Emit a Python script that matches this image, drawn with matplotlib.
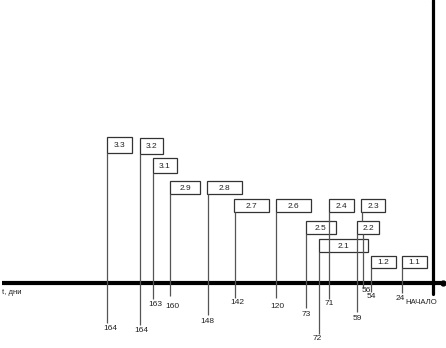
import matplotlib.pyplot as plt
from matplotlib.patches import Rectangle

plt.rcParams['font.family'] = ['Liberation Sans', 'DejaVu Sans']

# работы (прямоугольники): номер, левый/правый край, верх/низ
works = ['3.3', '3.2', '3.1', '2.9', '2.8', '2.7', '2.6', '2.5', '2.4', '2.3', '2.2', '2.1', '1.2', '1.1']
box_left = [106.7, 140, 153.3, 170, 207.3, 234.3, 276, 306, 329.3, 361.3, 356.7, 318.7, 370.7, 401.7]
box_right = [132.3, 162.7, 176.7, 200, 241.7, 269.3, 310.7, 335.7, 354, 384.7, 379.3, 368.3, 395.7, 427.3]
box_top = [136.7, 138.3, 158.3, 180.7, 180.7, 199.3, 199.3, 221, 199.3, 199.3, 221, 239.3, 256, 256]
box_bottom = [152.7, 154, 172.7, 194.3, 194.3, 211.7, 211.7, 234, 211.7, 211.7, 234, 252, 268.3, 268.3]

# отметки времени (дни) на шкале
days = ['164', '164', '163', '160', '148', '142', '120', '73', '72', '71', '59', '56', '54', '24']
mark_x = [106.7, 140.3, 152.8, 170, 207.5, 234.8, 275.8, 306, 318.5, 329.3, 356.7, 362.7, 370.5, 401.7]
mark_top = [152.7, 154, 172.7, 194.3, 194.3, 211.7, 211.7, 234, 252, 211.7, 234, 234, 268.3, 268.3]
mark_bottom = [323, 325, 298.5, 296, 314.5, 298, 298, 307.5, 333.5, 298.5, 311.7, 286.7, 292, 293.3]
label_x = [110.5, 141.5, 155, 172, 207, 237, 277, 306, 317, 329.5, 357, 366, 371, 400.5]
label_y = [329, 331, 304, 306.5, 321.5, 303, 306, 314, 338.5, 303.5, 318, 291, 297, 298.5]

fig = plt.figure(figsize=(4.46, 3.48), dpi=100)
ax = fig.add_axes([0, 0, 1, 1])
ax.set_xlim(0, 446)
ax.set_ylim(348, 0)
ax.axis('off')

# оси
ax.plot([2, 443], [282.7, 282.7], color='black', lw=3, solid_capstyle='butt')
ax.plot([443], [282.7], 'o', color='black', ms=3.5)
ax.plot([432.5, 432.5], [0, 294], color='black', lw=2.3, solid_capstyle='round')

# вертикальные линии отметок
ax.vlines(mark_x, mark_top, mark_bottom, color='#555555', lw=0.9)
# связь 2.3 -> 2.2
ax.vlines([362], [211.7], [221], color='#555555', lw=0.9)

for name, l, r, t, b in zip(works, box_left, box_right, box_top, box_bottom):
    ax.add_patch(Rectangle((l, t), r - l, b - t, fill=False, ec='#333333', lw=0.9))
    ax.text((l + r) / 2, (t + b) / 2 + 0.5, name, ha='center', va='center', fontsize=6, color='#222222')

for d, x, y in zip(days, label_x, label_y):
    ax.text(x, y, d, ha='center', va='center', fontsize=6, color='#222222')

ax.text(2, 292.5, 't, дни', ha='left', va='center', fontsize=5.5, color='#222222')
ax.text(421.5, 302.5, 'НАЧАЛО', ha='center', va='center', fontsize=5.6, color='#222222')

fig.savefig('out.png', dpi=100)
